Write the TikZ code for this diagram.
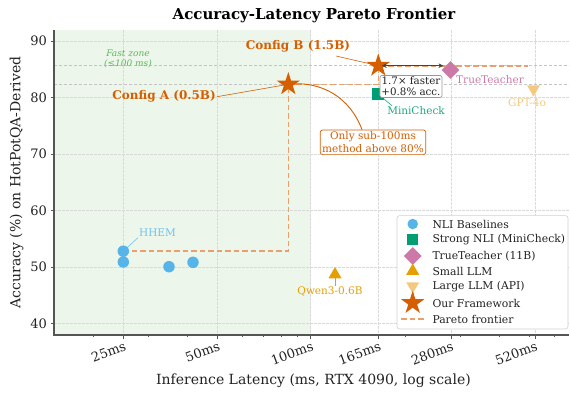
\documentclass[tikz,border=0pt]{standalone}
\usepackage{fontspec}
\setmainfont{DejaVu Serif}
\usetikzlibrary{shapes.geometric,arrows.meta}
\definecolor{cNLI}{HTML}{56B4E9}
\definecolor{cNLIt}{HTML}{74C2EC}
\definecolor{cMini}{HTML}{009E73}
\definecolor{cMinit}{HTML}{1FA883}
\definecolor{cTT}{HTML}{CC79A7}
\definecolor{cSmall}{HTML}{E69F00}
\definecolor{cLarge}{HTML}{F3C97F}
\definecolor{cOurs}{HTML}{D55E00}
\definecolor{cPareto}{HTML}{E8A06C}
\definecolor{cZone}{HTML}{EDF6EB}
\definecolor{cGrid}{HTML}{D9D9D9}
\definecolor{cRef}{HTML}{C4C4C4}
\definecolor{cSpine}{HTML}{555555}
\definecolor{cFast}{HTML}{5DB85D}
\definecolor{cTxt}{HTML}{222222}
\tikzset{
  nli/.style={circle, fill=cNLI, minimum size=11.5pt, inner sep=0pt},
  mini/.style={rectangle, fill=cMini, minimum size=12pt, inner sep=0pt},
  ttm/.style={diamond, fill=cTT, minimum size=18pt, inner sep=0pt},
  smallm/.style={regular polygon, regular polygon sides=3, fill=cSmall, minimum size=15pt, inner sep=0pt},
  largem/.style={regular polygon, regular polygon sides=3, shape border rotate=180, fill=cLarge, minimum size=15pt, inner sep=0pt},
  oursm/.style={star, star points=5, star point ratio=2.618, fill=cOurs, minimum size=24.5pt, inner sep=0pt},
  gridl/.style={draw=cGrid, line width=0.5pt, dash pattern=on 2.5pt off 1.5pt},
  refl/.style={draw=cRef, line width=0.7pt, dash pattern=on 3pt off 2pt},
  pareto/.style={draw=cPareto, line width=1.6pt, dash pattern=on 5.5pt off 3pt},
  ticklab/.style={font=\fontsize{13}{15}\selectfont, text=cTxt, inner sep=1pt},
  lbl/.style={font=\fontsize{10.5}{12.5}\selectfont, inner sep=1pt},
  cfg/.style={font=\fontsize{12}{14}\selectfont\bfseries, text=cOurs, inner sep=1pt},
  legt/.style={font=\fontsize{10.8}{12}\selectfont, text=cTxt, anchor=west, inner sep=0pt},
  lead/.style={line width=0.6pt},
}
\begin{document}
\begin{tikzpicture}[x=1pt,y=-1pt]
\useasboundingbox (0,0) rectangle (570,392);
% fast zone
\fill[cZone] (54,30) rectangle (310.7,335);
% grid
\foreach \gy in {41,97.5,154,210.5,267,323.5} \draw[gridl] (54,\gy) -- (569,\gy);
\foreach \gx in {123.3,217.3,310.7,378.3,450.9,534.9} \draw[gridl] (\gx,30) -- (\gx,335);
% reference lines
\draw[refl] (54,65.7) -- (569,65.7);
\draw[refl] (54,84.3) -- (569,84.3);
% positions
\coordinate (pHHEM) at (123.3,251.2);
\coordinate (pN2) at (123.3,262);
\coordinate (pN3) at (169,266.7);
\coordinate (pN4) at (193,262.3);
\coordinate (pMini) at (378.3,94.3);
\coordinate (pTT) at (450.5,70);
\coordinate (pGPT) at (533.5,89);
\coordinate (pQwen) at (335,274.5);
\coordinate (pA) at (288.3,84.3);
\coordinate (pB) at (378.3,65.7);
\coordinate (pEnd) at (528,65.7);
% pareto frontier
\draw[pareto] (pHHEM) -| (pA) -| (pB) -- (pEnd);
% spines and ticks
\draw[cSpine, line width=1.1pt] (54,30) -- (54,335) -- (569,335);
\foreach \gy/\lab in {41/90,97.5/80,154/70,210.5/60,267/50,323.5/40} {
  \draw[cSpine, line width=0.8pt] (50.5,\gy) -- (54,\gy);
  \node[ticklab, anchor=east] at (48,\gy) {\lab};
}
\foreach \gx/\lab in {123.3/25ms,217.3/50ms,310.7/100ms,378.3/165ms,450.9/280ms,534.9/520ms} {
  \draw[cSpine, line width=0.8pt] (\gx,335) -- (\gx,338.5);
  \node[ticklab, anchor=north east, rotate=20] at (\gx+1,339.5) {\lab};
}
\foreach \gx in {93.0,148.0,187.0,242.0,263.0,281.1,297.0,405.3,460.3,499.3,529.6,554.3}
  \draw[cSpine, line width=0.6pt] (\gx,335) -- (\gx,337.2);
% axis labels and title
\node[font=\fontsize{14}{16}\selectfont, text=cTxt] (xlab) at (313.5,381) {Inference Latency (ms, RTX 4090, log scale)};
\node[font=\fontsize{14}{16}\selectfont, text=cTxt, rotate=90] (ylab) at (16.5,182.5) {Accuracy (\%) on HotPotQA-Derived};
\node[font=\fontsize{15}{17}\selectfont\bfseries, text=black] (title) at (314,15) {Accuracy-Latency Pareto Frontier};
% fast zone label
\node[font=\fontsize{9}{10}\selectfont\itshape, text=cFast, align=center] (fz) at (128,59) {Fast zone\\(≤100 ms)};
% curved connector A -> note
\node[lbl, text=cOurs, draw=cOurs, fill=white, rounded corners=2.5pt, line width=0.7pt, align=center, inner sep=2pt] (note) at (373,142.3) {Only sub-100ms\\method above 80\%};
\draw[cOurs, line width=0.9pt] (pA) to[bend left=38] ([xshift=-11pt]note.north);
% leaders
\node[lbl, text=cNLIt] (lHHEM) at (157.5,232.7) {HHEM};
\draw[lead, cNLIt] (lHHEM.south west) -- (pHHEM);
\node[lbl, text=cMinit] (lMini) at (416,111) {MiniCheck};
\draw[lead, cMinit] ([xshift=6pt]lMini.north west) -- (pMini);
\node[lbl, text=cSmall] (lQwen) at (330,291.7) {Qwen3-0.6B};
\draw[lead, cSmall] (pQwen) -- (pQwen |- lQwen.north);
\node[lbl, text=cTT] (lTT) at (490,80) {TrueTeacher};
\node[lbl, text=cLarge] (lGPT) at (527,103) {GPT-4o};
\node[cfg] (lA) at (164,96.7) {Config A (0.5B)};
\node[cfg] (lB) at (298,46) {Config B (1.5B)};
\coordinate (lBend) at (336,56);
\draw[lead, cOurs] (lA.east) -- (pA);
\draw[lead, cOurs] (lBend) -- (pB);
% markers
\node[nli] (HHEM) at (pHHEM) {};
\node[nli] (N2) at (pN2) {};
\node[nli] (N3) at (pN3) {};
\node[nli] (N4) at (pN4) {};
\node[mini] (Mini) at (pMini) {};
\node[ttm] (TT) at (pTT) {};
\node[largem] (GPT) at (pGPT) {};
\node[smallm] (Qwen) at (pQwen) {};
\node[oursm] (A) at (pA) {};
\node[oursm] (B) at (pB) {};
% speed-up arrow and box
\draw[{Stealth[length=5pt,width=4.5pt]}-{Stealth[length=5pt,width=4.5pt]}, draw=cSpine!80!black, line width=1.1pt] ([xshift=3.4pt]B.center) -- ([xshift=-7pt]TT.center |- B.center);
\node[lbl, text=cTxt, draw=gray!80, fill=white, rounded corners=2pt, line width=0.7pt, align=center, inner sep=1.5pt, font=\fontsize{10.3}{11}\selectfont] (gain) at (411,86.5) {1.7× faster\\+0.8\% acc.};
% legend
\node[draw=black!18, fill=white, rounded corners=2.5pt, line width=0.6pt, minimum width=171pt, minimum height=113.3pt, inner sep=0pt] (leg) at (482.5,272.3) {};
\node[nli, minimum size=10.5pt] (m1) at (412.7,224) {};
\node[legt] (t1) at (432.3,224) {NLI Baselines};
\node[mini, minimum size=10.5pt] (m2) at (412.7,239.5) {};
\node[legt] (t2) at (432.3,239.5) {Strong NLI (MiniCheck)};
\node[ttm] (m3) at (412.7,256) {};
\node[legt] (t3) at (432.3,256) {TrueTeacher (11B)};
\node[smallm] (m4) at (412.7,271) {};
\node[legt] (t4) at (432.3,271.7) {Small LLM};
\node[largem] (m5) at (412.7,286) {};
\node[legt] (t5) at (432.3,286.7) {Large LLM (API)};
\node[oursm] (m6) at (412.7,303) {};
\node[legt] (t6) at (432.3,303.3) {Our Framework};
\coordinate (m7a) at (401,319);
\coordinate (m7b) at (424.5,319);
\draw[pareto] (m7a) -- (m7b);
\node[legt] (t7) at (432.3,319) {Pareto frontier};
\end{tikzpicture}
\end{document}
